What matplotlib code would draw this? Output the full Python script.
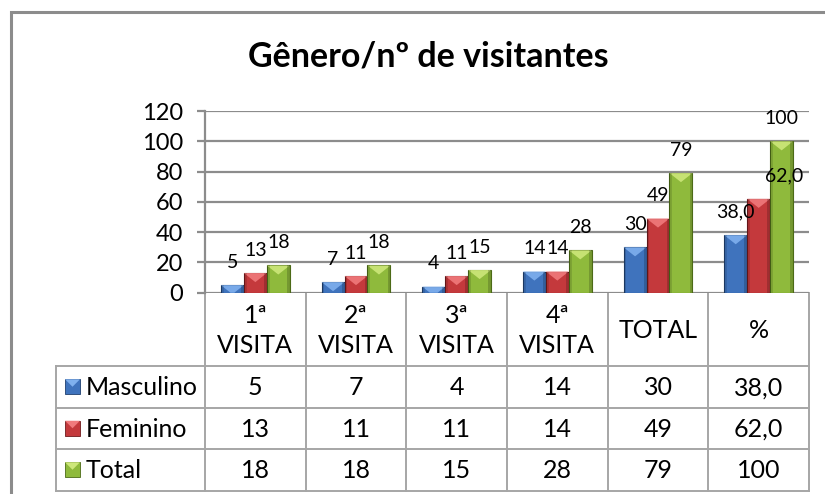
import matplotlib
matplotlib.use("Agg")
import matplotlib.pyplot as plt
from matplotlib.patches import Rectangle, Polygon
import numpy as np

# ---------------- data ----------------
categories = ["1ª\nVISITA", "2ª\nVISITA", "3ª\nVISITA", "4ª\nVISITA", "TOTAL", "%"]
series_names = ["Masculino", "Feminino", "Total"]
masculino = [5, 7, 4, 14, 30, 38.0]
feminino = [13, 11, 11, 14, 49, 62.0]
total = [18, 18, 15, 28, 79, 100]
yticks = [0, 20, 40, 60, 80, 100, 120]
title = "Gênero/nº de visitantes"

series_values = [masculino, feminino, total]
colors = ["#3f73bd", "#c4393c", "#8fba3c"]
edge_colors = ["#1f3f6e", "#6e1a1c", "#4c6a17"]
light_colors = ["#7fb0ee", "#f07a7c", "#cde77a"]

FONT = "Lato"
plt.rcParams["font.family"] = [FONT, "DejaVu Sans"]


def fmt(v, cat_idx, ser_idx):
    if categories[cat_idx] == "%" and series_names[ser_idx] != "Total":
        return f"{v:.1f}".replace(".", ",")
    return f"{v:g}"


W, H = 825, 494
fig = plt.figure(figsize=(W / 100, H / 100), dpi=100)

# overlay axes in pixel coordinates (for border & table)
ov = fig.add_axes([0, 0, 1, 1])
ov.set_xlim(0, W)
ov.set_ylim(H, 0)
ov.axis("off")

grid_c = "#8c8c8c"
table_c = "#a6a6a6"

# outer chart border (left & top visible)
ov.plot([10.5, 10.5, W + 5], [H + 5, 12, 12], color=grid_c, lw=2.2, solid_joinstyle="miter")

# plot axes
px_left, px_right = 205, 809
px_top, px_bottom = 111, 292.7
ax = fig.add_axes([px_left / W, 1 - px_bottom / H, (px_right - px_left) / W, (px_bottom - px_top) / H])
ax.set_zorder(2)
ax.patch.set_alpha(0)

n = len(categories)
x = np.arange(n)
bw = 0.228
offsets = [-bw, 0, bw]

ax.set_xlim(-0.5, n - 0.5)
ax.set_ylim(0, 120)
ax.set_yticks(yticks)
ax.set_yticklabels([str(t) for t in yticks], fontsize=17)
ax.set_xticks([])
for s in ["top", "right", "bottom"]:
    ax.spines[s].set_visible(False)
ax.spines["left"].set_color(grid_c)
ax.spines["left"].set_linewidth(1.6)
ax.tick_params(axis="y", length=6, width=1.6, color=grid_c, pad=10)
ax.yaxis.grid(True, color=grid_c, lw=1.6)
ax.set_axisbelow(True)

depth = 6.0
label_nudge = {(5, 1): 18}  # (category, series) -> x offset in points
for si, vals in enumerate(series_values):
    bars = ax.bar(x + offsets[si], vals, width=bw, color=colors[si],
                  edgecolor=edge_colors[si], linewidth=0.8, zorder=3)
    for ci, b in enumerate(bars):
        bx, bwid, bh = b.get_x(), b.get_width(), b.get_height()
        d = min(depth, bh)
        frac = d / depth
        tri = Polygon([(bx, bh), (bx + bwid, bh), (bx + bwid / 2 + bwid / 2 * (1 - frac), bh - d),
                       (bx + bwid / 2 - bwid / 2 * (1 - frac), bh - d)],
                      closed=True, facecolor=light_colors[si], edgecolor="none", zorder=4, alpha=0.9)
        ax.add_patch(tri)
        ax.add_patch(Rectangle((bx, 0), bwid * 0.12, bh, facecolor="black", alpha=0.12,
                               edgecolor="none", zorder=4))
        ax.add_patch(Rectangle((bx + bwid * 0.88, 0), bwid * 0.12, bh, facecolor="black", alpha=0.18,
                               edgecolor="none", zorder=4))
        ax.annotate(fmt(vals[ci], ci, si), (bx + bwid / 2, bh),
                    xytext=(label_nudge.get((ci, si), 0), 16.5), textcoords="offset points",
                    ha="center", va="center", fontsize=14, zorder=5)

# ---------------- table ----------------
col_edges = [56] + list(np.linspace(px_left, px_right, n + 1))
row_edges = [292.7, 366, 407.5, 449, 490.5]
lw_t = 1.4
for xe in col_edges[1:]:
    ov.plot([xe, xe], [row_edges[0], row_edges[-1]], color=table_c, lw=lw_t)
ov.plot([col_edges[0], col_edges[0]], [row_edges[1], row_edges[-1]], color=table_c, lw=lw_t)
for ye in row_edges[1:]:
    ov.plot([col_edges[0], col_edges[-1]], [ye, ye], color=table_c, lw=lw_t)

fs_t = 18
for ci, cat in enumerate(categories):
    cx = (col_edges[ci + 1] + col_edges[ci + 2]) / 2
    cy = (row_edges[0] + row_edges[1]) / 2
    ov.text(cx, cy + 1, cat, ha="center", va="center", fontsize=fs_t, linespacing=1.35)

for si, name in enumerate(series_names):
    cy = (row_edges[si + 1] + row_edges[si + 2]) / 2
    kx, ks = 65, 15
    ov.add_patch(Rectangle((kx, cy - ks / 2), ks, ks, facecolor=colors[si],
                           edgecolor=edge_colors[si], lw=0.6, zorder=3))
    ov.add_patch(Polygon([(kx, cy - ks / 2), (kx + ks, cy - ks / 2), (kx + ks / 2, cy)],
                         closed=True, facecolor=light_colors[si], edgecolor="none", zorder=4))
    ov.text(86, cy + 1, name, ha="left", va="center", fontsize=fs_t)
    for ci in range(n):
        cx = (col_edges[ci + 1] + col_edges[ci + 2]) / 2
        ov.text(cx, cy + 1, fmt(series_values[si][ci], ci, si), ha="center", va="center", fontsize=fs_t)

# title
ov.text(428, 57, title, ha="center", va="center", fontsize=24.5, fontweight="bold")

fig.savefig("out.png", dpi=100)
